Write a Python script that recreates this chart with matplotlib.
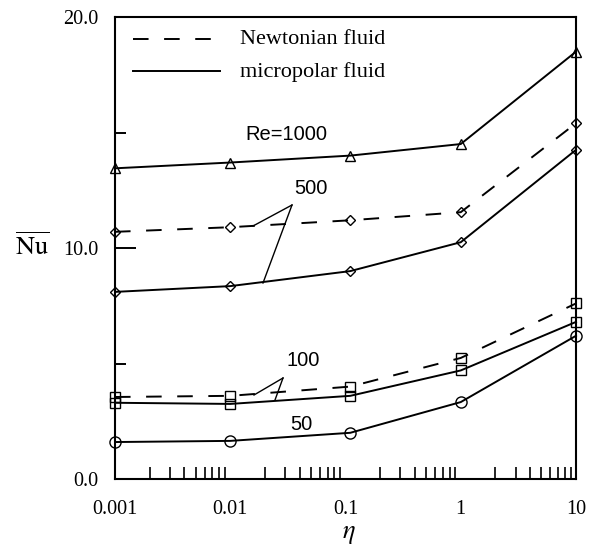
import matplotlib
matplotlib.use("Agg")
import matplotlib.pyplot as plt
from matplotlib.ticker import LogLocator, NullFormatter, FixedLocator

plt.rcParams['font.family'] = ['Liberation Serif', 'DejaVu Serif']
plt.rcParams['mathtext.fontset'] = 'stix'

eta = [0.001, 0.01, 0.11, 1.0, 10.0]
re1000_micro = [13.45, 13.7, 14.0, 14.5, 18.5]
re500_newt = [10.7, 10.9, 11.2, 11.55, 15.4]
re500_micro = [8.1, 8.35, 9.0, 10.25, 14.25]
re100_newt = [3.55, 3.6, 4.0, 5.24, 7.6]
re100_micro = [3.3, 3.25, 3.6, 4.7, 6.8]
re50_micro = [1.6, 1.65, 2.0, 3.33, 6.2]

xticks = [0.001, 0.01, 0.1, 1, 10]
xticklabels = ['0.001', '0.01', '0.1', '1', '10']
yticks = [0, 10, 20]
yticklabels = ['0.0', '10.0', '20.0']

W, H = 598, 546
fig = plt.figure(figsize=(W/100, H/100), dpi=100)
AX_L, AX_R, AX_T, AX_B = 115, 576, 17, 479
ax = fig.add_axes([AX_L/W, 1-AX_B/H, (AX_R-AX_L)/W, (AX_B-AX_T)/H])

dash = (0, (8, 8))
lw = 1.4
kw = dict(color='black', lw=lw, markerfacecolor='none', markeredgecolor='black',
          markeredgewidth=1.0, clip_on=False)

ax.plot(eta, re1000_micro, '-', marker='^', ms=7.5, **kw)
ax.plot(eta, re500_newt, linestyle=dash, marker='D', ms=5.5, **kw)
ax.plot(eta, re500_micro, '-', marker='D', ms=5.5, **kw)
ax.plot(eta, re100_newt, linestyle=dash, marker='s', ms=7, **kw)
ax.plot(eta, re100_micro, '-', marker='s', ms=7, **kw)
ax.plot(eta, re50_micro, '-', marker='o', ms=8, **kw)

ax.set_xscale('log')
ax.set_xlim(0.001, 10)
ax.set_ylim(0, 20)

ax.set_xticks(xticks)
ax.set_xticklabels(xticklabels, fontsize=14.5)
ax.xaxis.set_minor_locator(LogLocator(base=10, subs=[2, 3, 4, 5, 6, 7, 8, 9], numticks=20))
ax.xaxis.set_minor_formatter(NullFormatter())
ax.tick_params(axis='x', which='major', length=0, pad=15)
ax.tick_params(axis='x', which='minor', direction='in', length=9, width=1.2)

ax.set_yticks(yticks)
ax.set_yticklabels(yticklabels, fontsize=14.5)
ax.yaxis.set_minor_locator(FixedLocator([5, 15]))
ax.tick_params(axis='y', which='major', direction='in', length=15, width=1.4, pad=12)
ax.tick_params(axis='y', which='minor', direction='in', length=8, width=1.4)

for s in ax.spines.values():
    s.set_linewidth(1.5)

fig.text(349/W, 1-535/H, r'$\eta$', fontsize=19, ha='center', va='center')
fig.text(32/W, 1-246/H, r'$\overline{\mathrm{Nu}}$', fontsize=19, ha='center', va='center')

tr = ax.transAxes
def pt(px, py):
    return ((px-AX_L)/(AX_R-AX_L), (AX_B-py)/(AX_B-AX_T))

# legend (drawn manually)
x0, yl1 = pt(133, 39)
x1, yl2 = pt(220, 71)
xt, _ = pt(240, 0)
ax.plot([x0, x1], [yl1, yl1], color='black', lw=lw, linestyle=dash, transform=tr)
ax.plot([x0, x1], [yl2, yl2], color='black', lw=lw, transform=tr)
ax.text(xt, pt(0, 40)[1], 'Newtonian fluid', transform=tr, fontsize=16, va='center')
ax.text(xt, pt(0, 72)[1], 'micropolar fluid', transform=tr, fontsize=16, va='center')

# annotations
afont = dict(family=['Liberation Sans', 'DejaVu Sans'], fontsize=14.5, ha='center', va='center')
ax.text(*pt(286, 135), 'Re=1000', transform=tr, **afont)
ax.text(*pt(311, 188), '500', transform=tr, **afont)
ax.text(*pt(303, 361), '100', transform=tr, **afont)
ax.text(*pt(301, 424), '50', transform=tr, **afont)

for (sx, sy, ex, ey) in [(292, 205, 253, 226), (292, 205, 263, 283),
                         (283, 378, 254, 395), (283, 378, 275, 400)]:
    a, b = pt(sx, sy)
    c, d = pt(ex, ey)
    ax.plot([a, c], [b, d], color='black', lw=1.0, transform=tr)

fig.savefig('out.png', dpi=100)
